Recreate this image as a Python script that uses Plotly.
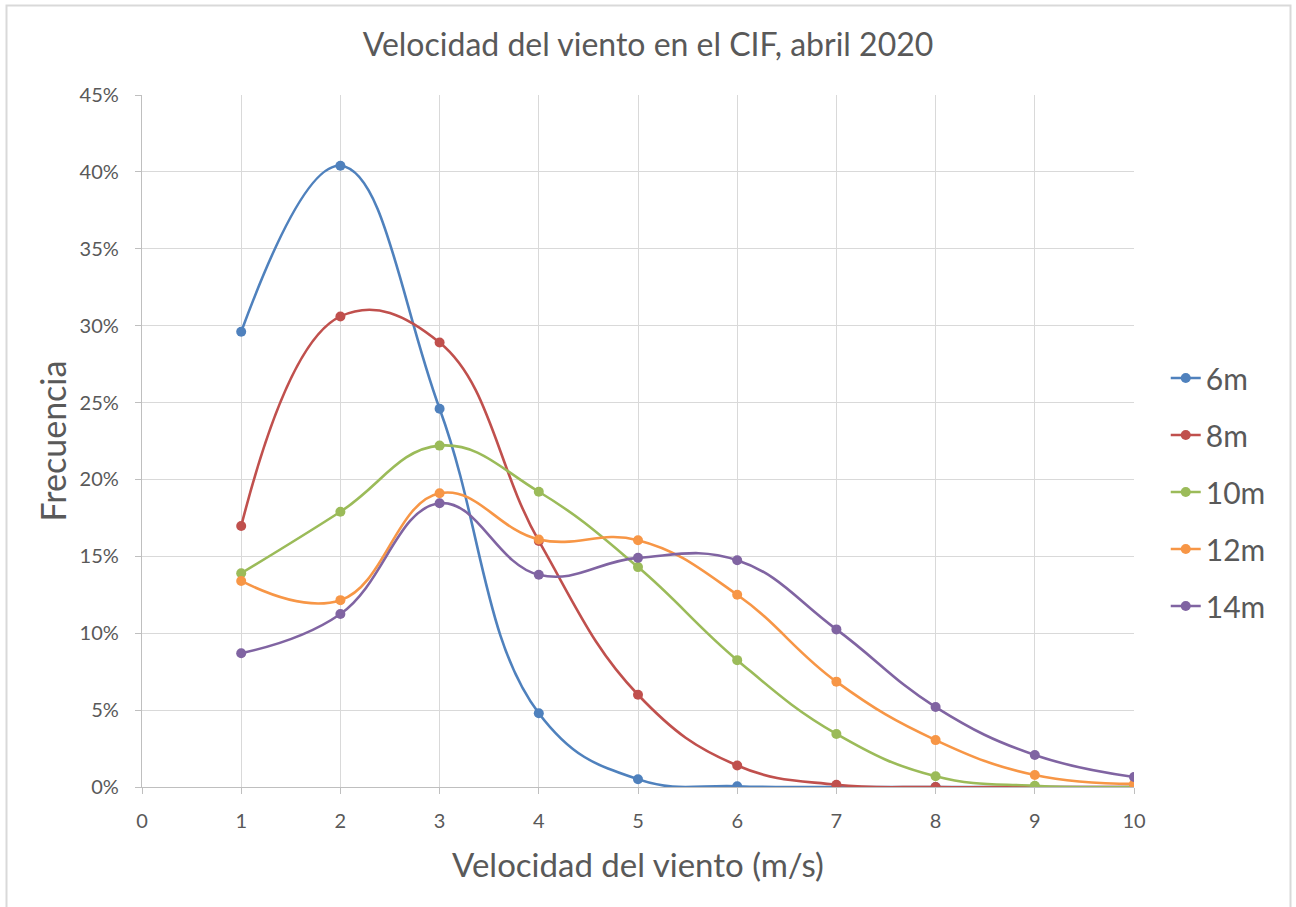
import plotly.graph_objects as go

speeds = [1, 2, 3, 4, 5, 6, 7, 8, 9, 10]
series_names = ["6m", "8m", "10m", "12m", "14m"]
f6 = [29.6, 40.4, 24.6, 4.8, 0.5, 0.05, 0.0, 0.0, 0.0, 0.0]
f8 = [16.97, 30.6, 28.9, 16.0, 6.0, 1.4, 0.15, 0.0, 0.0, 0.0]
f10 = [13.9, 17.9, 22.2, 19.2, 14.3, 8.25, 3.45, 0.7, 0.08, 0.0]
f12 = [13.4, 12.15, 19.1, 16.1, 16.05, 12.5, 6.85, 3.05, 0.78, 0.2]
f14 = [8.7, 11.25, 18.45, 13.8, 14.9, 14.75, 10.25, 5.2, 2.08, 0.65]
colors = ["#4F81BD", "#C0504D", "#9BBB59", "#F79646", "#8064A2"]
y_ticks = [0, 5, 10, 15, 20, 25, 30, 35, 40, 45]
y_tick_labels = [f"{v}%" for v in y_ticks]
x_ticks = [0, 1, 2, 3, 4, 5, 6, 7, 8, 9, 10]

FONT = "Lato"
TXT = "#595959"

fig = go.Figure()
for name, vals, col in zip(series_names, [f6, f8, f10, f12, f14], colors):
    fig.add_trace(go.Scatter(
        x=speeds, y=vals, name=name, mode="lines+markers", legendgroup=name,
        line=dict(color=col, width=2.6, shape="spline", smoothing=1.2),
        marker=dict(color=col, size=10),
    ))

L, R, T, B = 142, 162, 95, 120
W, H = 1296, 907
pw, ph = W - L - R, H - T - B

fig.update_layout(
    width=W, height=H,
    margin=dict(l=L, r=R, t=T, b=B),
    paper_bgcolor="white", plot_bgcolor="white",
    font=dict(family=FONT, color=TXT),
    title=dict(text="Velocidad del viento en el CIF, abril 2020",
               x=0.5, xanchor="center", y=1 - 45 / H, yanchor="middle",
               font=dict(size=32, family=FONT, color=TXT)),
    legend=dict(x=1.032, xanchor="left", y=1 - (492 - T) / ph, yanchor="middle",
                font=dict(size=30, family=FONT, color=TXT),
                bgcolor="rgba(0,0,0,0)", traceorder="grouped", tracegroupgap=15),
    showlegend=True,
    shapes=[dict(type="rect", xref="paper", yref="paper",
                 x0=(6.5 - L) / pw, x1=(1290.5 - L) / pw,
                 y0=(H - B - 912) / ph, y1=(H - B - 5.5) / ph,
                 line=dict(color="#d9d9d9", width=2), layer="below")],
)
fig.update_xaxes(
    range=[0, 10], tickmode="array", tickvals=x_ticks,
    showgrid=True, gridcolor="#d9d9d9", gridwidth=1.3,
    showline=True, linecolor="#bfbfbf", linewidth=1.3,
    ticks="outside", ticklen=6, tickcolor="#bfbfbf", ticklabelstandoff=10,
    tickfont=dict(size=20, family=FONT, color=TXT),
    title=dict(text="Velocidad del viento (m/s)",
               font=dict(size=33, family=FONT, color=TXT), standoff=22),
    zeroline=False,
)
fig.update_yaxes(
    range=[0, 45], tickmode="array", tickvals=y_ticks, ticktext=y_tick_labels,
    showgrid=True, gridcolor="#d9d9d9", gridwidth=1.3,
    showline=True, linecolor="#bfbfbf", linewidth=1.3,
    ticks="outside", ticklen=6, tickcolor="#bfbfbf", ticklabelstandoff=12,
    tickfont=dict(size=20, family=FONT, color=TXT),
    title=dict(text="Frecuencia", font=dict(size=34, family=FONT, color=TXT),
               standoff=2),
    zeroline=False,
)

fig.write_html("out.html", config={"displayModeBar": False},
               post_script="document.body.style.margin='0';")
